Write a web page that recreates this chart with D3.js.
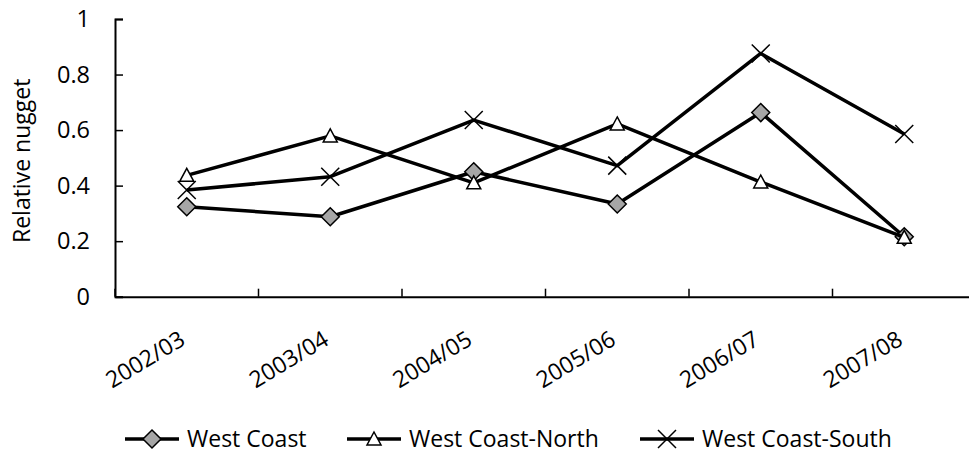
<!DOCTYPE html>
<html>
<head>
<meta charset="utf-8">
<script src="https://cdn.jsdelivr.net/npm/d3@7"></script>
<style>
  body { margin: 0; background: #fff; }
  svg { display: block; font-family: "Open Sans", sans-serif; }
</style>
</head>
<body>
<svg id="chart" width="969" height="453"></svg>
<script>
const categories = ["2002/03", "2003/04", "2004/05", "2005/06", "2006/07", "2007/08"];
const westCoast = [0.324, 0.288, 0.45, 0.334, 0.663, 0.216];
const westCoastNorth = [0.437, 0.579, 0.41, 0.622, 0.413, 0.214];
const westCoastSouth = [0.384, 0.432, 0.636, 0.472, 0.876, 0.586];
const yTicks = [0, 0.2, 0.4, 0.6, 0.8, 1];
const seriesNames = ["West Coast", "West Coast-North", "West Coast-South"];

const svg = d3.select("#chart");
const plotLeft = 115, plotRight = 976, plotTop = 19, plotBottom = 296.7;

const x = d3.scaleBand().domain(categories).range([plotLeft, plotRight]).padding(0);
const y = d3.scaleLinear().domain([0, 1]).range([plotBottom, plotTop]);
const cx = c => x(c) + x.bandwidth() / 2;

// Y axis
const yAxis = svg.append("g").attr("transform", `translate(${plotLeft},0)`)
  .call(d3.axisLeft(y).tickValues(yTicks).tickSize(-8).tickPadding(25)
    .tickFormat(d => d3.format("")(d)));
yAxis.select(".domain").attr("stroke", "#000").attr("stroke-width", 2);
yAxis.selectAll(".tick line").attr("stroke", "#000").attr("stroke-width", 1.5);
yAxis.selectAll(".tick text").attr("font-size", 23.5).attr("fill", "#000")
  .attr("font-family", "Open Sans, sans-serif");

// X axis
const xAxis = svg.append("g").attr("transform", `translate(0,${plotBottom})`)
  .call(d3.axisBottom(x).tickSize(0).tickFormat(""));
xAxis.select(".domain").attr("stroke", "#000").attr("stroke-width", 2);
const bounds = categories.map(c => x(c)).concat([x.range()[1]]);
svg.append("g").selectAll("line").data(bounds).join("line")
  .attr("x1", d => d).attr("x2", d => d)
  .attr("y1", plotBottom).attr("y2", plotBottom - 8)
  .attr("stroke", "#000").attr("stroke-width", 1.5);
svg.append("g").selectAll("text").data(categories).join("text")
  .attr("transform", d => `translate(${cx(d)},${plotBottom + 47}) rotate(-31)`)
  .attr("text-anchor", "end")
  .attr("font-size", 23)
  .text(d => d);

// Y axis title
svg.append("text")
  .attr("transform", `translate(30,${(plotTop + plotBottom) / 2 + 3}) rotate(-90)`)
  .attr("text-anchor", "middle")
  .attr("font-size", 23)
  .text("Relative nugget");

// markers
function diamond(g, px, py) {
  g.append("path")
    .attr("d", `M${px},${py - 9}L${px + 9},${py}L${px},${py + 9}L${px - 9},${py}Z`)
    .attr("fill", "#a6a6a6").attr("stroke", "#000").attr("stroke-width", 1.5);
}
function triangle(g, px, py) {
  g.append("path")
    .attr("d", `M${px},${py - 7}L${px + 7},${py + 6}L${px - 7},${py + 6}Z`)
    .attr("fill", "#fff").attr("stroke", "#000").attr("stroke-width", 1.5);
}
function cross(g, px, py) {
  g.append("path")
    .attr("d", `M${px - 9},${py - 9}L${px + 9},${py + 9}M${px + 9},${py - 9}L${px - 9},${py + 9}`)
    .attr("fill", "none").attr("stroke", "#000").attr("stroke-width", 1.5);
}

const series = [
  { name: seriesNames[0], values: westCoast, marker: diamond },
  { name: seriesNames[1], values: westCoastNorth, marker: triangle },
  { name: seriesNames[2], values: westCoastSouth, marker: cross }
];

const line = d3.line().x((d, i) => cx(categories[i])).y(d => y(d));

series.forEach(s => {
  const g = svg.append("g");
  g.append("path").datum(s.values).attr("d", line)
    .attr("fill", "none").attr("stroke", "#000").attr("stroke-width", 3.5)
    .attr("stroke-linejoin", "round");
  s.values.forEach((v, i) => s.marker(g, cx(categories[i]), y(v)));
});

// legend
const legendY = 439;
const legendX = [125, 347, 640];
series.forEach((s, i) => {
  const g = svg.append("g");
  const lx = legendX[i];
  g.append("line").attr("x1", lx).attr("x2", lx + 54)
    .attr("y1", legendY).attr("y2", legendY)
    .attr("stroke", "#000").attr("stroke-width", 3.5);
  s.marker(g, lx + 27, legendY);
  g.append("text").attr("x", lx + 62).attr("y", legendY)
    .attr("dy", "0.35em").attr("font-size", 23).text(s.name);
});
</script>
</body>
</html>
